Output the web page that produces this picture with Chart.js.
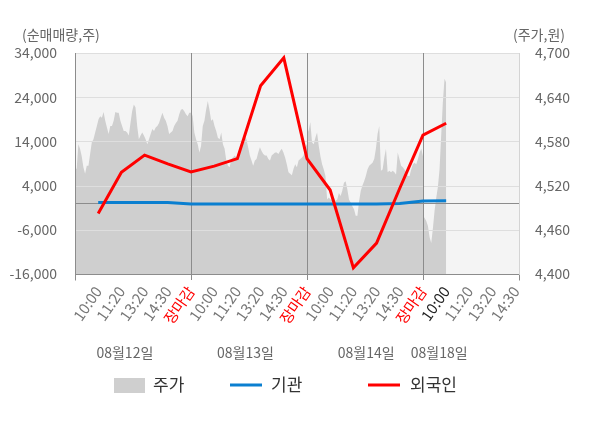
<!DOCTYPE html>
<html>
<head>
<meta charset="utf-8">
<script src="https://cdn.jsdelivr.net/npm/chart.js@4/dist/chart.umd.min.js"></script>
<style>
  html, body { margin: 0; padding: 0; background: #fff; }
  #wrap { width: 600px; height: 428px; }
</style>
</head>
<body>
<div id="wrap"><canvas id="flow-chart" width="600" height="428"></canvas></div>
<script>
// x tick labels (slot 1..19)
const xTickLabels = ['10:00', '11:20', '13:20', '14:30', '장마감',
  '10:00', '11:20', '13:20', '14:30', '장마감',
  '10:00', '11:20', '13:20', '14:30', '장마감',
  '10:00', '11:20', '13:20', '14:30'];
const dateLabels = ['08월12일', '08월13일', '08월14일', '08월18일'];

// net buying (shares) at slots 1..16
const foreignNet = [-2300, 7000, 10900, 8900, 7100, 8400, 10100, 26600, 32900,
  10100, 3000, -14600, -9000, 3400, 15400, 18100];
const instNet = [150, 150, 150, 150, -150, -150, -150, -150, -160,
  -160, -160, -160, -160, -50, 500, 550];

// stock price (won), intraday, per day
const priceDay1 = [4543, 4543, 4576, 4570, 4560, 4545, 4536, 4547, 4547, 4563,
  4579, 4583, 4592, 4601, 4610, 4614, 4612, 4620, 4608, 4599,
  4590, 4601, 4601, 4608, 4620, 4619, 4619, 4608, 4601, 4594,
  4594, 4592, 4588, 4605, 4621, 4630, 4626, 4601, 4583, 4588,
  4592, 4588, 4583, 4576, 4583, 4590, 4597, 4594, 4599, 4601,
  4605, 4612, 4619, 4612, 4608, 4601, 4590, 4592, 4594, 4601,
  4605, 4608, 4617, 4623, 4624, 4621, 4617, 4614, 4619, 4619];
const priceDay2 = [4621, 4614, 4592, 4583, 4576, 4565, 4574, 4601, 4608, 4623,
  4635, 4623, 4608, 4610, 4601, 4594, 4585, 4583, 4592, 4576,
  4570, 4554, 4547, 4545, 4556, 4558, 4561, 4558, 4565, 4572,
  4579, 4583, 4588, 4583, 4572, 4561, 4554, 4547, 4554, 4556,
  4565, 4572, 4567, 4563, 4561, 4561, 4556, 4554, 4561, 4563,
  4565, 4565, 4563, 4567, 4570, 4565, 4558, 4549, 4538, 4536,
  4534, 4543, 4549, 4545, 4554, 4556, 4558, 4561, 4572, 4576];
const priceDay3 = [4590, 4595, 4606, 4579, 4576, 4585, 4592, 4574, 4560, 4549,
  4542, 4533, 4501, 4504, 4501, 4501, 4504, 4499, 4501, 4510,
  4506, 4513, 4524, 4526, 4515, 4501, 4497, 4492, 4488, 4479,
  4479, 4499, 4513, 4520, 4526, 4533, 4542, 4547, 4549, 4551,
  4556, 4570, 4590, 4601, 4540, 4542, 4558, 4570, 4538, 4540,
  4538, 4540, 4538, 4535, 4565, 4556, 4547, 4545, 4542, 4538,
  4533, 4533, 4542, 4549, 4551, 4549, 4556, 4565, 4570, 4560];
const priceDay4 = [4479, 4476, 4472, 4465, 4450, 4442, 4462, 4486, 4503, 4518,
  4542, 4588, 4633, 4665, 4660];

// build price points: full days span 5 slots, the last day runs to its 10:00 slot
const priceDays = [priceDay1, priceDay2, priceDay3, priceDay4];
const pricePoints = [];
priceDays.forEach((arr, d) => {
  const span = d < 3 ? 5 : 1;
  arr.forEach((v, i) => pricePoints.push({ x: d * 5 + span * i / (arr.length - 1), y: v }));
});
const foreignPoints = foreignNet.map((v, i) => ({ x: i + 1, y: v }));
const instPoints = instNet.map((v, i) => ({ x: i + 1, y: v }));

const FONT = '"Noto Sans CJK KR", "Noto Sans", sans-serif';

const frame = {
  id: 'frame',
  beforeDraw(chart) {
    const { ctx, chartArea: a } = chart;
    ctx.save();
    ctx.fillStyle = '#f4f4f4';
    ctx.fillRect(a.left, a.top, a.right - a.left, a.bottom - a.top);
    ctx.restore();
  },
  afterDatasetDraw(chart, args) {
    if (args.index !== 0) return;
    const { ctx, chartArea: a, scales } = chart;
    const yL = scales.y, x = scales.x;
    ctx.save();
    ctx.lineWidth = 1;
    // horizontal grid
    ctx.strokeStyle = '#dedede';
    yL.ticks.forEach(t => {
      const py = Math.round(yL.getPixelForValue(t.value)) + 0.5;
      ctx.beginPath(); ctx.moveTo(a.left, py); ctx.lineTo(a.right, py); ctx.stroke();
    });
    // zero line
    ctx.strokeStyle = '#8c8c8c';
    const zy = Math.round(yL.getPixelForValue(0)) + 0.5;
    ctx.beginPath(); ctx.moveTo(a.left, zy); ctx.lineTo(a.right, zy); ctx.stroke();
    // day boundaries
    [5, 10, 15].forEach(v => {
      const px = Math.round(x.getPixelForValue(v)) + 0.5;
      ctx.beginPath(); ctx.moveTo(px, a.top); ctx.lineTo(px, a.bottom + 6); ctx.stroke();
    });
    // axis borders
    const l = Math.round(a.left) + 0.5, b = Math.round(a.bottom) + 0.5, r = Math.round(a.right) + 0.5;
    ctx.beginPath(); ctx.moveTo(l, a.top); ctx.lineTo(l, b + 6); ctx.stroke();
    ctx.beginPath(); ctx.moveTo(a.left, b); ctx.lineTo(a.right, b); ctx.stroke();
    ctx.beginPath(); ctx.moveTo(r, b); ctx.lineTo(r, b + 6); ctx.stroke();
    ctx.strokeStyle = '#d4d4d4';
    ctx.beginPath(); ctx.moveTo(r, a.top); ctx.lineTo(r, b); ctx.stroke();
    ctx.restore();
  },
  afterDraw(chart) {
    const { ctx, scales } = chart;
    ctx.save();
    ctx.font = '14px ' + FONT;
    ctx.fillStyle = '#666';
    ctx.textBaseline = 'middle';
    ctx.textAlign = 'left';
    ctx.fillText('(순매매량,주)', 22, 35);
    ctx.textAlign = 'right';
    ctx.fillText('(주가,원)', 565, 35);
    // day labels
    ctx.textAlign = 'center';
    const dayCenters = [2.15, 7.35, 12.55, 15.7];
    dateLabels.forEach((t, i) => ctx.fillText(t, scales.x.getPixelForValue(dayCenters[i]), 353));
    // legend
    ctx.font = '17px ' + FONT;
    ctx.textAlign = 'left';
    const ly = 385;
    ctx.fillStyle = '#cfcfcf';
    ctx.fillRect(114, 378, 31, 15);
    ctx.fillStyle = '#333';
    ctx.fillText('주가', 153, ly);
    ctx.lineWidth = 3;
    ctx.strokeStyle = '#0a7fd0';
    ctx.beginPath(); ctx.moveTo(230, ly); ctx.lineTo(262, ly); ctx.stroke();
    ctx.fillText('기관', 271, ly);
    ctx.strokeStyle = '#ff0000';
    ctx.beginPath(); ctx.moveTo(368, ly); ctx.lineTo(400, ly); ctx.stroke();
    ctx.fillText('외국인', 410, ly);
    ctx.restore();
  }
};

const fmt = v => Number(v).toLocaleString('en-US');

new Chart(document.getElementById('flow-chart').getContext('2d'), {
  type: 'line',
  data: {
    datasets: [{
      label: '주가',
      data: pricePoints,
      yAxisID: 'yR',
      fill: 'start',
      backgroundColor: '#cfcfcf',
      borderWidth: 0,
      pointRadius: 0,
      order: 3
    }, {
      label: '기관',
      data: instPoints,
      yAxisID: 'y',
      borderColor: '#0a7fd0',
      borderWidth: 3,
      pointRadius: 0,
      fill: false,
      order: 2
    }, {
      label: '외국인',
      data: foreignPoints,
      yAxisID: 'y',
      borderColor: '#ff0000',
      borderWidth: 3,
      pointRadius: 0,
      fill: false,
      order: 1
    }]
  },
  options: {
    responsive: false,
    animation: false,
    devicePixelRatio: 1,
    layout: { padding: { top: 53, left: 0, right: 0, bottom: 0 } },
    plugins: { legend: { display: false }, tooltip: { enabled: false } },
    scales: {
      x: {
        type: 'linear',
        min: 0,
        max: 19.14,
        grid: { display: false },
        border: { display: false },
        afterBuildTicks: s => { s.ticks = xTickLabels.map((_, i) => ({ value: i + 1 })); },
        afterFit: s => { s.height = 154; },
        ticks: {
          autoSkip: false,
          maxRotation: 55,
          minRotation: 55,
          padding: 1,
          font: { family: FONT, size: 15 },
          color: c => {
            const lbl = xTickLabels[c.tick.value - 1];
            if (lbl === '장마감') return '#ff0000';
            if (c.tick.value === 16) return '#222';
            return '#777';
          },
          callback: v => xTickLabels[v - 1]
        }
      },
      y: {
        position: 'left',
        min: -16000,
        max: 34000,
        grid: { display: false },
        border: { display: false },
        afterFit: s => { s.width = 75; },
        ticks: {
          stepSize: 10000,
          padding: 10,
          font: { family: FONT, size: 14 },
          color: '#666',
          callback: fmt
        }
      },
      yR: {
        position: 'right',
        min: 4400,
        max: 4700,
        grid: { display: false },
        border: { display: false },
        afterFit: s => { s.width = 81; },
        ticks: {
          stepSize: 60,
          padding: 8,
          font: { family: FONT, size: 14 },
          color: '#666',
          callback: fmt
        }
      }
    }
  },
  plugins: [frame]
});
</script>
</body>
</html>
